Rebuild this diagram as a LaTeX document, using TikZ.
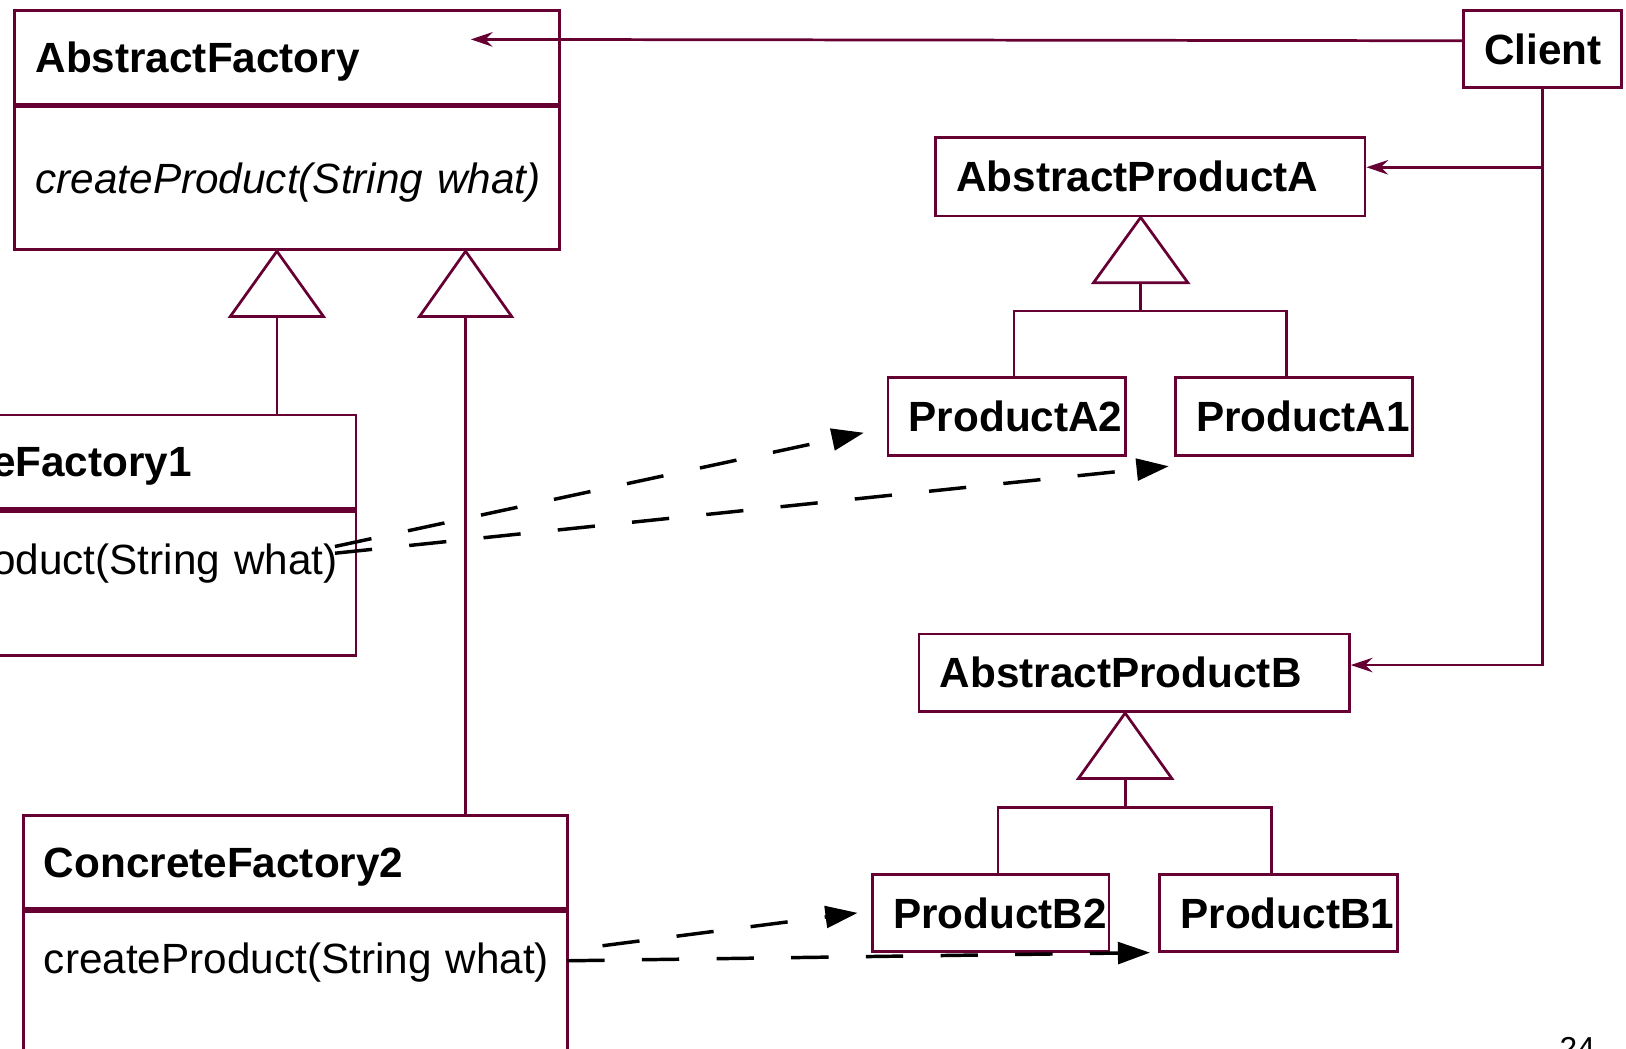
\documentclass[tikz,border=0pt]{standalone}
\usepackage{fontspec}
\setmainfont{Liberation Sans}
\usetikzlibrary{positioning,arrows.meta}
\definecolor{umlred}{RGB}{102,0,51}

\tikzset{
	umlline/.style={draw=umlred, line width=0.75pt},
	classbox/.style={rectangle, draw=umlred, line width=0.75pt, inner xsep=0.2cm, inner ysep=0pt, align=left, text height=8.3pt, text depth=0pt, font=\bfseries},
	methbox/.style={classbox, font=\mdseries},
	opbox/.style={methbox, text depth=0.47cm},
	assoc/.style={umlline, -{Stealth[length=0.21cm,width=0.14cm,inset=0.07cm]}},
	dep/.style={black, line width=0.95pt, dash pattern=on 0.36cm off 0.36cm, -{Triangle[length=0.31cm,width=0.21cm]}}
}

\begin{document}
\begin{tikzpicture}
	\fontsize{11.6}{14}\selectfont
	\useasboundingbox (0,0) rectangle (15.68,-10.11);
	\clip (0,0) rectangle (15.68,-10.11);

	\node[classbox, anchor=north west, text width=4.85cm, minimum height=0.90cm] (af) at (0.13,-0.09) {AbstractFactory};
	\node[methbox, below=0pt of af, text width=4.85cm, minimum height=1.38cm, font=\itshape] (afm) {createProduct(String~what)};
	\node[classbox, anchor=north west, text width=4.85cm, minimum height=0.90cm] (cf1) at (-1.83,-3.99) {ConcreteFactory1};
	\node[opbox, below=0pt of cf1, text width=4.85cm, minimum height=1.39cm] (cf1m) {createProduct(String~what)};
	\node[classbox, anchor=north west, text width=4.85cm, minimum height=0.90cm] (cf2) at (0.21,-7.85) {ConcreteFactory2};
	\node[opbox, below=0pt of cf2, text width=4.85cm, minimum height=1.38cm] (cf2m) {createProduct(String~what)};

	\node[classbox, anchor=north west, text width=1.12cm, minimum height=0.74cm] (client) at (14.10,-0.09) {Client};
	\node[classbox, anchor=north west, text width=3.74cm, minimum height=0.76cm] (apa) at (9.01,-1.31) {AbstractProductA};
	\node[classbox, anchor=north west, text width=1.89cm, minimum height=0.75cm] (pa2) at (8.55,-3.63) {ProductA2};
	\node[classbox, anchor=north west, text width=1.89cm, minimum height=0.75cm] (pa1) at (11.32,-3.63) {ProductA1};
	\node[classbox, anchor=north west, text width=3.75cm, minimum height=0.75cm] (apb) at (8.85,-6.10) {AbstractProductB};
	\node[classbox, anchor=north west, text width=1.88cm, minimum height=0.74cm] (pb2) at (8.40,-8.42) {ProductB2};
	\node[classbox, anchor=north west, text width=1.89cm, minimum height=0.74cm] (pb1) at (11.17,-8.42) {ProductB1};

	\draw[umlline] (afm.south -| 2.67,0) coordinate (g1) -- ++(-0.45,-0.63) -- ++(0.90,0) -- cycle;
	\draw[umlline] (g1) ++(0,-0.63) -- (g1 |- cf1.north);
	\draw[umlline] (afm.south -| 4.49,0) coordinate (g2) -- ++(-0.445,-0.63) -- ++(0.89,0) -- cycle;
	\draw[umlline] (g2) ++(0,-0.63) -- (g2 |- cf2.north);

	\draw[umlline] (apa.south -| 11.00,0) coordinate (gA) -- ++(-0.455,-0.63) -- ++(0.91,0) -- cycle;
	\coordinate (jA) at (11.00,-3.00);
	\draw[umlline] (gA) ++(0,-0.63) -- (jA);
	\draw[umlline] ([xshift=0.07cm]pa2.north) |- (jA) -| ([xshift=-0.07cm]pa1.north);

	\draw[umlline] (apb.south -| 10.85,0) coordinate (gB) -- ++(-0.45,-0.63) -- ++(0.90,0) -- cycle;
	\coordinate (jB) at (10.85,-7.79);
	\draw[umlline] (gB) ++(0,-0.63) -- (jB);
	\draw[umlline] ([xshift=0.07cm]pb2.north) |- (jB) -| ([xshift=-0.07cm]pb1.north);

	\coordinate (afin) at (4.54,-0.38);
	\draw[assoc] ([yshift=0.08cm]client.west) -- (afin);
	\coordinate (ka) at ([yshift=0.09cm]apa.east);
	\draw[assoc] (client.south |- ka) -- (ka);
	\draw[assoc] (client.south) |- ([yshift=0.075cm]apb.east);

	\coordinate (s1) at (3.23,-5.27);
	\coordinate (s2) at (3.23,-5.335);
	\coordinate (s3) at (5.81,-9.12);
	\coordinate (s4) at (5.47,-9.265);
	\draw[dep] (s1) -- ([shift={(-0.22,-0.155)}]pa2.west);
	\draw[dep] (s2) -- ([shift={(-0.05,-0.09)}]pa1.south west);
	\draw[dep] (s3) -- ([xshift=-0.13cm]pb2.west);
	\draw[dep] (s4) -- ([xshift=-0.08cm]pb1.south west);

	\node[anchor=north, inner sep=0pt, font=\fontsize{8.7}{10}\selectfont] (pgno) at (15.21,-10.00) {24};
\end{tikzpicture}
\end{document}
